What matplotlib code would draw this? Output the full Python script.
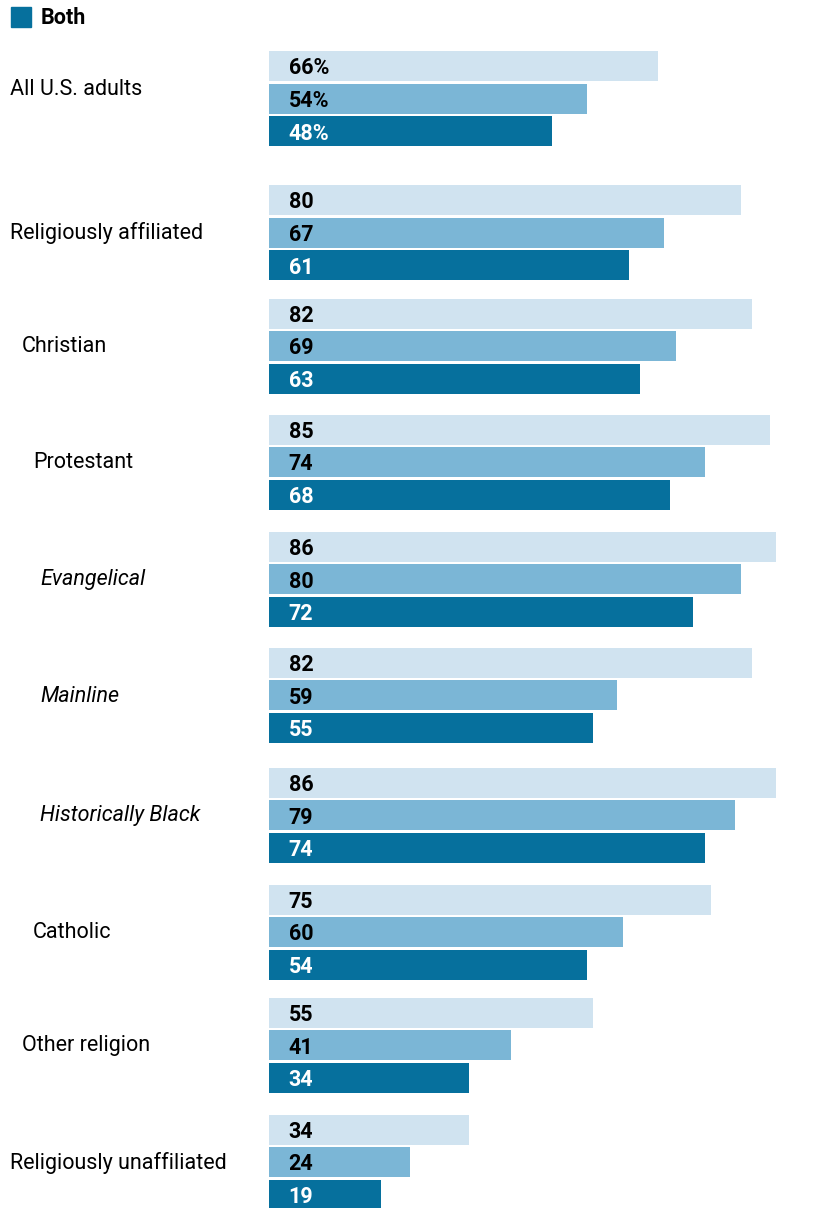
import matplotlib
matplotlib.use("Agg")
import matplotlib.pyplot as plt
from matplotlib.patches import Rectangle

# Survey groups and the three shares for each (percent)
groups = ["All U.S. adults", "Religiously affiliated", "Christian", "Protestant",
          "Evangelical", "Mainline", "Historically Black", "Catholic",
          "Other religion", "Religiously unaffiliated"]
series_light = [66, 80, 82, 85, 86, 82, 86, 75, 55, 34]
series_mid = [54, 67, 69, 74, 80, 59, 79, 60, 41, 24]
series_both = [48, 61, 63, 68, 72, 55, 74, 54, 34, 19]
legend_label = "Both"

# Layout: label indent level and italic flag per group
indent = [0, 0, 1, 2, 3, 3, 3, 2, 1, 0]
italic = [False, False, False, False, True, True, True, False, False, False]

W, H, DPI = 814, 1208, 100
fig = plt.figure(figsize=(W / DPI, H / DPI), dpi=DPI)
fig.patch.set_facecolor("white")

x0 = 269          # pixel where bars start
scale = 5.894     # pixels per percentage point
ax = fig.add_axes([0, 0, 1, 1])
ax.set_xlim(-x0 / scale, (W - x0) / scale)
ax.set_ylim(H, 0)
ax.axis("off")

c_light, c_mid, c_dark = "#D0E3F0", "#7BB6D6", "#06709D"
# vertical centre (pixels) of the middle bar in each group
centers = [98.5, 232.5, 346, 462, 579, 695, 815, 932, 1045, 1162]
label_shift = [-10, 0, 0, 0, 0, 0, 0, 0, 0, 0]
step = 32.5
bh = 30

font = "Roboto"
lab_x = [10, 22, 33, 40]

for i, g in enumerate(groups):
    cy = centers[i]
    vals = [series_light[i], series_mid[i], series_both[i]]
    cols = [c_light, c_mid, c_dark]
    tcols = ["black", "black", "white"]
    for k in range(3):
        y = cy + (k - 1) * step
        ax.barh(y, vals[k], height=bh, left=0, color=cols[k], edgecolor="none")
        txt = f"{vals[k]}%" if i == 0 else f"{vals[k]}"
        ax.text(19.5 / scale, y + 2.5, txt, ha="left", va="center",
                fontsize=15.5, fontweight="bold", color=tcols[k], family=font)
    ax.text((lab_x[indent[i]] - x0) / scale, cy + label_shift[i] + 1, g,
            ha="left", va="center", fontsize=15.5, color="black", family=font,
            style="italic" if italic[i] else "normal")

# Legend swatch
fig.patches.append(Rectangle((11 / W, 1 - 27 / H), 20 / W, 20 / H,
                             transform=fig.transFigure, color=c_dark))
fig.text(41 / W, 1 - 18 / H, legend_label, ha="left", va="center",
         fontsize=15.5, fontweight="bold", family=font)

fig.savefig("out.png", dpi=DPI)
